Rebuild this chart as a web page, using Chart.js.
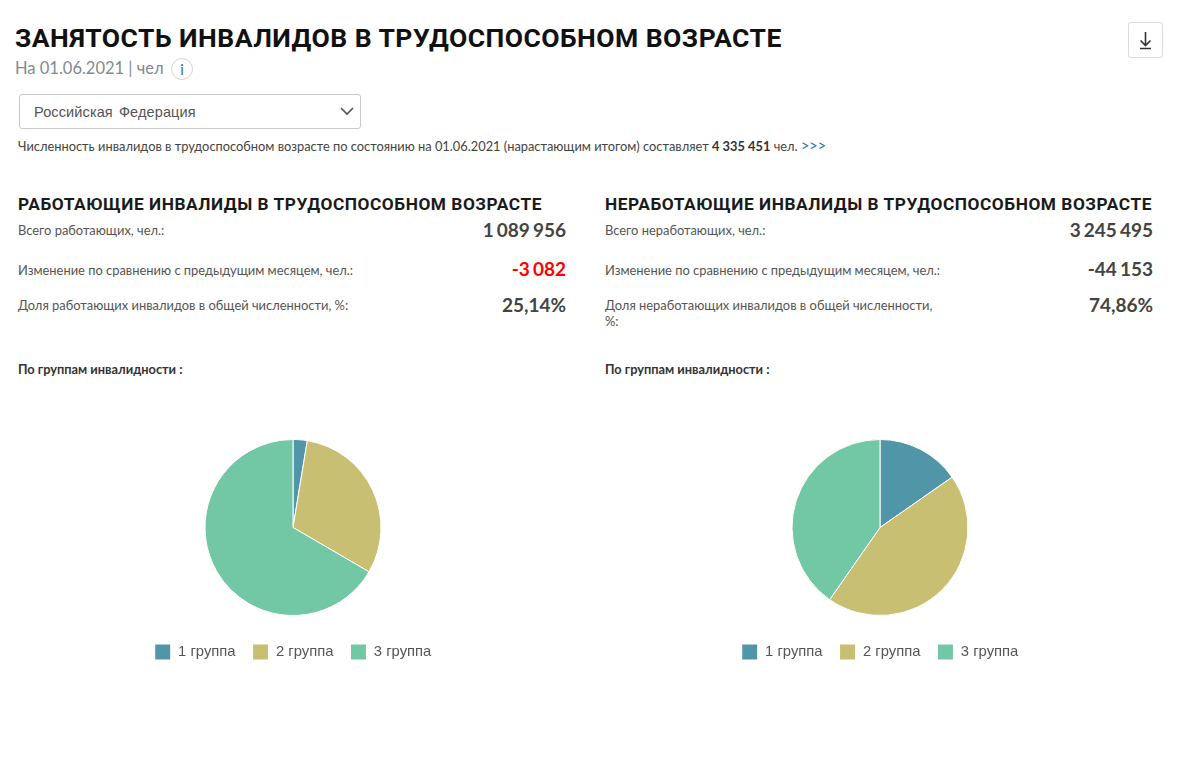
<!DOCTYPE html>
<html lang="ru"><head><meta charset="utf-8">
<script src="https://cdn.jsdelivr.net/npm/chart.js@4"></script>
<style>
html,body{margin:0;padding:0;background:#fff;overflow:hidden}
body{width:1200px;height:764px;position:relative;font-family:Lato,"Open Sans",sans-serif;color:#444}
.t{position:absolute;white-space:nowrap;line-height:1}
.h1{left:15px;top:24px;font:700 26.5px/28px Roboto,sans-serif;color:#111;letter-spacing:.47px}
.sub{left:15px;top:60px;font-size:16.5px;color:#808a94}
.info{position:absolute;left:171px;top:58px;width:20px;height:20px;border:1px solid #d5d5d5;border-radius:50%;text-align:center;font:15px/20px Lato,sans-serif;color:#3f6b9a}
.sel{position:absolute;left:19px;top:94px;width:340px;height:33px;border:1px solid #c9c9c9;border-radius:3px;font:14.5px/34px "Liberation Sans",sans-serif;letter-spacing:.12px;color:#555;text-indent:14px;word-spacing:2px}
.sel svg{position:absolute;right:5px;top:11px}
.dl{position:absolute;left:1128px;top:22px;width:33px;height:34px;border:1px solid #dcdcdc;border-radius:3px}
.note{left:18px;top:139px;font-size:12.85px;color:#444}
.note b{color:#333}.note a{color:#2a6f9e;font-size:14.5px}
.h2{font:700 17.3px/20px Roboto,sans-serif;color:#1a1a1a;top:194px;letter-spacing:.54px}
.lab{font-size:12.9px;color:#555}
.val{font-size:19px;font-weight:700;color:#444;text-align:right;width:200px;letter-spacing:0;word-spacing:-1.5px}
.red{color:#f00}
.grp{font-size:12.8px;font-weight:700;color:#333;top:363px}
canvas{position:absolute}
.box{position:absolute;top:425px;width:550px;height:245px}
</style></head><body>
<div class="t h1">ЗАНЯТОСТЬ ИНВАЛИДОВ В ТРУДОСПОСОБНОМ ВОЗРАСТЕ</div>
<div class="t sub">На 01.06.2021 | чел</div><div class="info">i</div>
<div class="dl"><svg width="33" height="34" viewBox="0 0 33 34"><path d="M16.5 9v13M11.5 17.5l5 5 5-5M11 25.5h11" fill="none" stroke="#333" stroke-width="1.6"/></svg></div>
<div class="sel">Российская Федерация<svg width="16" height="12" viewBox="0 0 16 12"><path d="M2 2l6 6 6-6" fill="none" stroke="#555" stroke-width="1.7"/></svg></div>
<div class="t note">Численность инвалидов в трудоспособном возрасте по состоянию на 01.06.2021 (нарастающим итогом) составляет <b>4 335 451</b> чел. <a>&gt;&gt;&gt;</a></div>

<div class="t h2" style="left:18px">РАБОТАЮЩИЕ ИНВАЛИДЫ В ТРУДОСПОСОБНОМ ВОЗРАСТЕ</div>
<div class="t lab" style="left:18px;top:224px">Всего работающих, чел.:</div>
<div class="t val" style="left:366px;top:220px">1 089 956</div>
<div class="t lab" style="left:18px;top:264px">Изменение по сравнению с предыдущим месяцем, чел.:</div>
<div class="t val red" style="left:366px;top:259px">-3 082</div>
<div class="t lab" style="left:18px;top:299px">Доля работающих инвалидов в общей численности, %:</div>
<div class="t val" style="left:366px;top:295px">25,14%</div>
<div class="t grp" style="left:18px">По группам инвалидности :</div>

<div class="t h2" style="left:605px">НЕРАБОТАЮЩИЕ ИНВАЛИДЫ В ТРУДОСПОСОБНОМ ВОЗРАСТЕ</div>
<div class="t lab" style="left:605px;top:224px">Всего неработающих, чел.:</div>
<div class="t val" style="left:953px;top:220px">3 245 495</div>
<div class="t lab" style="left:605px;top:264px">Изменение по сравнению с предыдущим месяцем, чел.:</div>
<div class="t val" style="left:953px;top:259px">-44 153</div>
<div class="t lab" style="left:605px;top:299px">Доля неработающих инвалидов в общей численности,</div>
<div class="t lab" style="left:605px;top:315px">%:</div>
<div class="t val" style="left:953px;top:295px">74,86%</div>
<div class="t grp" style="left:605px">По группам инвалидности :</div>

<div class="box" style="left:18px"><canvas id="c1"></canvas></div>
<div class="box" style="left:605px"><canvas id="c2"></canvas></div>
<script>
const categories = ["1 группа", "2 группа", "3 группа"];
const workingShare = [2.6, 30.8, 66.6];
const nonWorkingShare = [15.3, 44.4, 40.3];
const sliceColors = ["#5096A8", "#C9BF72", "#72C7A5"];

function pie(id, values) {
  new Chart(document.getElementById(id), {
    type: "pie",
    data: { labels: categories, datasets: [{ data: values, backgroundColor: sliceColors, borderColor: "#fff", borderWidth: 1, radius: 88 }] },
    options: {
      responsive: true, maintainAspectRatio: false, animation: false,
      layout: { padding: { top: 3, bottom: 0, left: 0, right: 0 } },
      plugins: {
        tooltip: { enabled: false },
        legend: { position: "bottom", labels: { boxWidth: 16, boxHeight: 16, padding: 17, color: "#555", font: { family: "Liberation Sans", size: 14.8 } } }
      }
    }
  });
}
pie("c1", workingShare);
pie("c2", nonWorkingShare);
</script>
</body></html>
